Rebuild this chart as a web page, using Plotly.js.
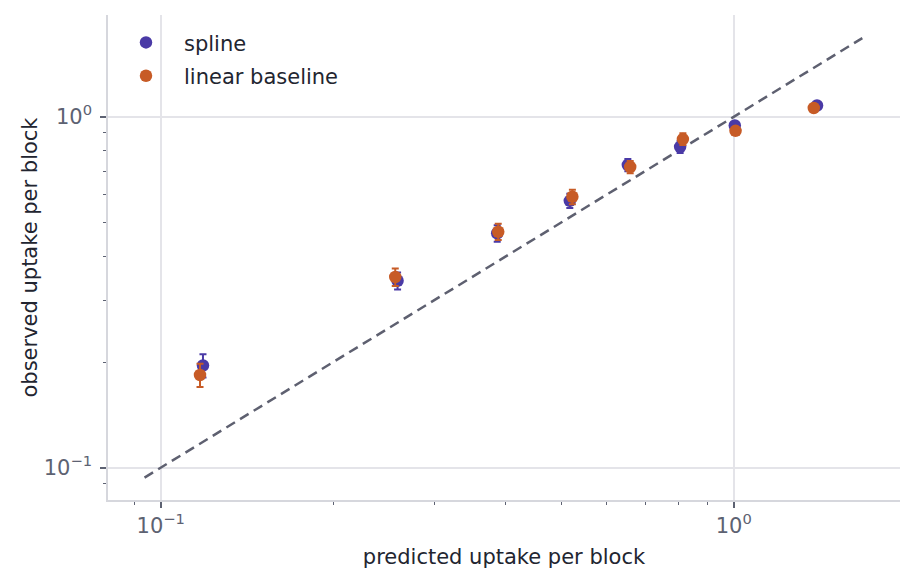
<!DOCTYPE html>
<html>
<head>
<meta charset="utf-8">
<script src="https://cdn.plot.ly/plotly-3.0.1.min.js"></script>
<style>
  html, body { margin: 0; padding: 0; background: #fff; }
  #chart { width: 915px; height: 585px; }
</style>
</head>
<body>
<div id="chart"></div>
<script>
// predicted vs observed uptake, per model
var splinePred = [0.1185, 0.259, 0.3865, 0.5174, 0.6533, 0.806, 1.004, 1.397];
var splineObs = [0.1956, 0.341, 0.4657, 0.5762, 0.7286, 0.821, 0.9445, 1.077];
var splineErr = [0.015, 0.019, 0.025, 0.027, 0.029, 0.032, 0.02, 0.025];

var linearPred = [0.1171, 0.2566, 0.3881, 0.5228, 0.6595, 0.815, 1.007, 1.379];
var linearObs = [0.1837, 0.3494, 0.4704, 0.5916, 0.7191, 0.864, 0.912, 1.059];
var linearErr = [0.014, 0.02, 0.025, 0.028, 0.029, 0.033, 0.02, 0.025];

// y = x reference line ends
var refLine = [0.0937, 1.676];

var majorTicks = [0.1, 1];
var majorLabels = ['10<sup>\u22121</sup>', '10<sup>0</sup>'];
var minorTicks = [0.09, 0.2, 0.3, 0.4, 0.5, 0.6, 0.7, 0.8, 0.9];

var blue = '#4a3aa6';
var orange = '#c75b26';
var tickGrey = '#5d6272';
var textDark = '#222530';

var spline = {
  x: splinePred,
  y: splineObs,
  name: 'spline',
  type: 'scatter',
  mode: 'markers',
  legendgroup: 'a',
  marker: { color: blue, size: 12.5 },
  error_y: { type: 'data', array: splineErr, visible: true, color: blue, thickness: 2, width: 3.5 }
};

var linear = {
  x: linearPred,
  y: linearObs,
  name: 'linear baseline',
  type: 'scatter',
  mode: 'markers',
  legendgroup: 'b',
  marker: { color: orange, size: 12.5 },
  error_y: { type: 'data', array: linearErr, visible: true, color: orange, thickness: 2, width: 3.5 }
};

var diag = {
  x: refLine,
  y: refLine,
  type: 'scatter',
  mode: 'lines',
  showlegend: false,
  hoverinfo: 'skip',
  line: { color: '#5e6070', width: 2.5, dash: '10px,6px' }
};

var axisCommon = {
  type: 'log',
  range: [-1.092, 0.29],
  tickmode: 'array',
  tickvals: majorTicks,
  ticktext: majorLabels,
  ticks: 'outside',
  ticklen: 6,
  tickwidth: 1.5,
  tickcolor: tickGrey,
  tickfont: { size: 21, color: tickGrey },
  showgrid: true,
  gridcolor: '#e4e4e9',
  gridwidth: 1.5,
  showline: true,
  linecolor: '#d6d7dd',
  linewidth: 1.5,
  zeroline: false,
  minor: {
    tickmode: 'array',
    tickvals: minorTicks,
    ticks: 'outside',
    ticklen: 3,
    tickwidth: 1,
    tickcolor: tickGrey,
    showgrid: false
  }
};

var layout = {
  width: 915,
  height: 585,
  margin: { l: 108, r: 15, t: 15, b: 85 },
  paper_bgcolor: '#ffffff',
  plot_bgcolor: '#ffffff',
  font: { family: 'DejaVu Sans', size: 21, color: textDark },
  showlegend: true,
  legend: {
    x: 0, y: 0.985, xanchor: 'left', yanchor: 'top',
    bgcolor: 'rgba(0,0,0,0)',
    itemwidth: 66,
    tracegroupgap: 3,
    font: { size: 21, color: textDark }
  },
  xaxis: Object.assign({}, axisCommon, {
    title: { text: 'predicted uptake per block', font: { size: 21, color: textDark }, standoff: 12 }
  }),
  yaxis: Object.assign({}, axisCommon, {
    ticklabelstandoff: 4,
    title: { text: 'observed uptake per block', font: { size: 21, color: textDark }, standoff: 0 }
  })
};

Plotly.newPlot('chart', [diag, spline, linear], layout, { displayModeBar: false });
</script>
</body>
</html>
